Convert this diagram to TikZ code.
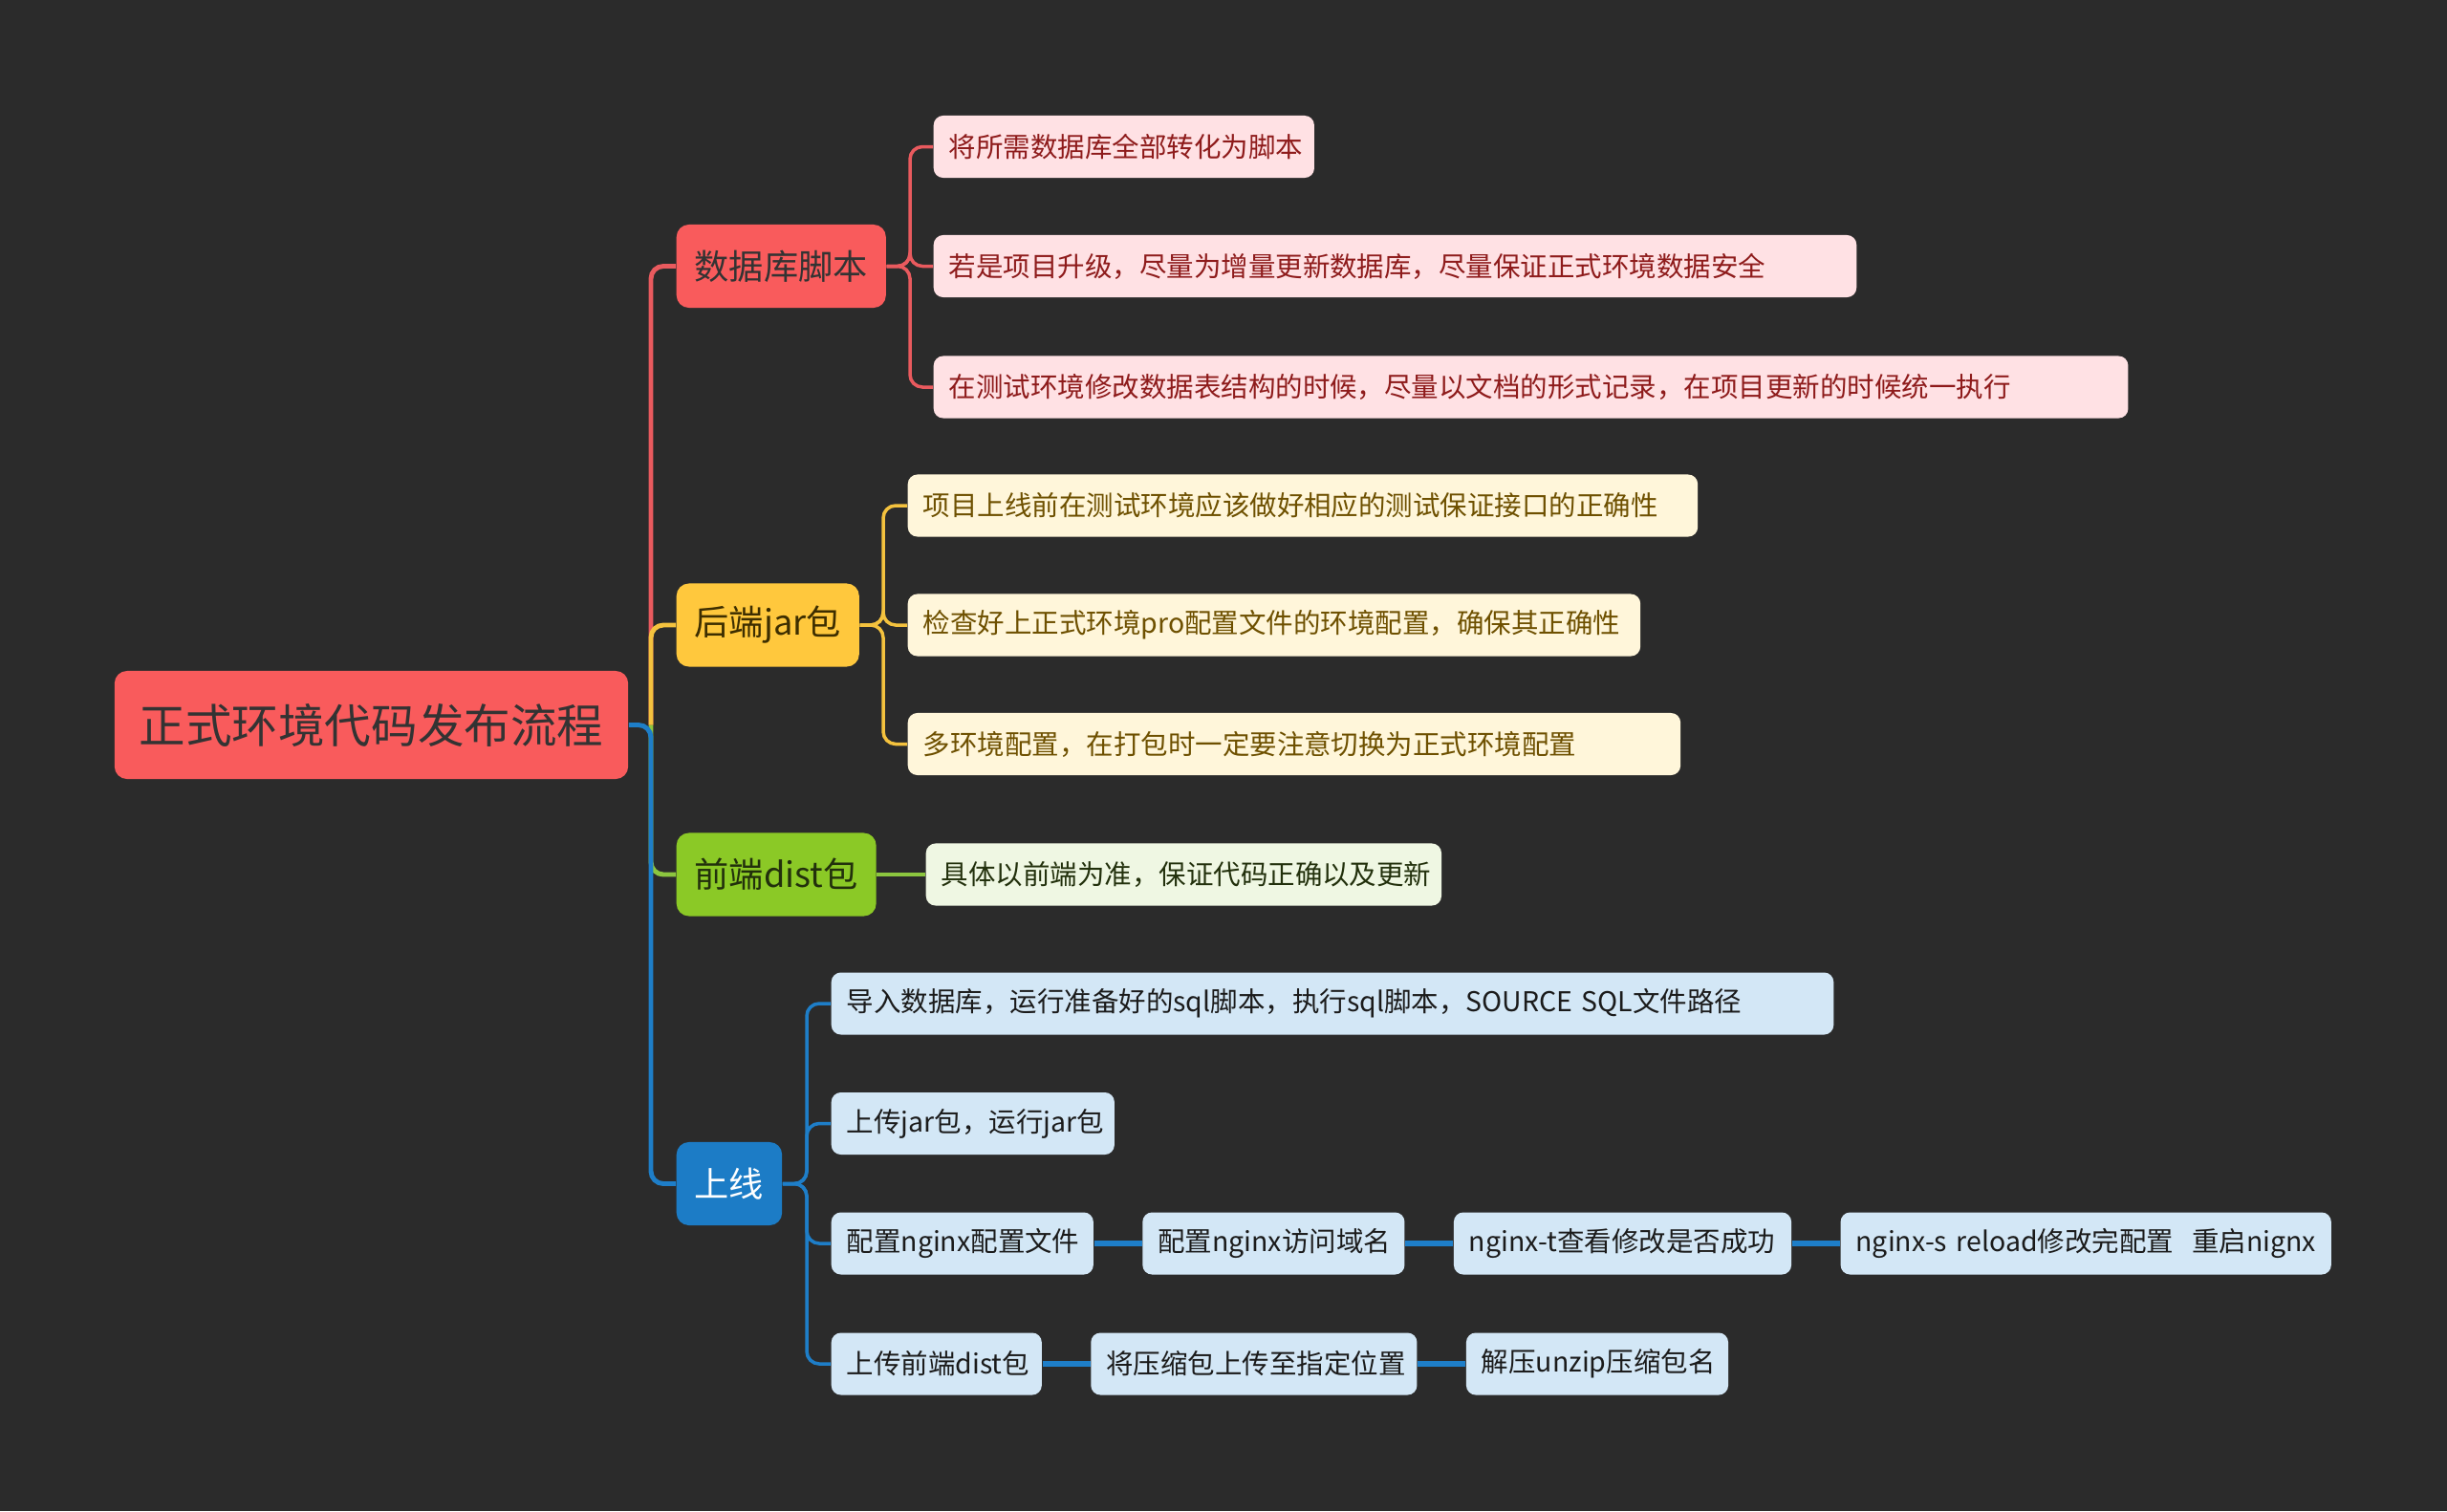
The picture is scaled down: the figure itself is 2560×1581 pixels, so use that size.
\documentclass[tikz,border=0pt]{standalone}
\usepackage{fontspec}
\newfontfamily\cjk{Noto Sans CJK SC}
\usetikzlibrary{positioning}

\definecolor{bg}{HTML}{2B2B2B}
\definecolor{rootred}{HTML}{F95B5C}
\definecolor{darkink}{HTML}{333333}
\definecolor{dbline}{HTML}{E95A5E}
\definecolor{dbfill}{HTML}{FFE1E4}
\definecolor{dbink}{HTML}{8E1B1B}
\definecolor{jarline}{HTML}{F4C23E}
\definecolor{jarmain}{HTML}{FFC83D}
\definecolor{jarfill}{HTML}{FFF6DA}
\definecolor{jarink}{HTML}{6E5000}
\definecolor{jartopic}{HTML}{3D2E00}
\definecolor{distline}{HTML}{8CC63F}
\definecolor{distmain}{HTML}{8BC926}
\definecolor{distfill}{HTML}{EFF7E3}
\definecolor{distink}{HTML}{22300C}
\definecolor{online}{HTML}{1E7EC8}
\definecolor{onmain}{HTML}{1C7CC6}
\definecolor{onfill}{HTML}{D3E7F6}
\definecolor{onink}{HTML}{1B1B1B}

\begin{document}
\begin{tikzpicture}[
    x=0.01cm, y=-0.01cm,
    box/.style={
      rounded corners=0.1cm, inner sep=0pt, inner xsep=0.16cm,
      minimum height=0.65cm, anchor=west, text width=#1, align=left,
      font=\cjk\fontsize{8.1}{10}\selectfont
    },
    topic/.style={rounded corners=0.13cm, inner sep=0pt, anchor=west,
      minimum height=0.87cm, inner xsep=0.19cm,
      font=\cjk\fontsize{10.3}{12}\selectfont},
    rootbox/.style={topic, anchor=center, minimum height=1.13cm,
      inner xsep=0.26cm, fill=rootred, text=darkink,
      font=\cjk\fontsize{13.8}{16}\selectfont},
    dbleaf/.style={box=#1, fill=dbfill, text=dbink},
    jarleaf/.style={box=#1, fill=jarfill, text=jarink},
    distleaf/.style={box=#1, fill=distfill, text=distink},
    onleaf/.style={box=#1, fill=onfill, text=onink},
    link/.style={line width=1pt, rounded corners=0.13cm},
    trunk/.style={link, line width=1.4pt},
    chain/.style={line width=1.7pt, online},
  ]
  \def\gap{0.5cm}

  % Background
  \fill[bg] (0,0) rectangle (2560,1581);
  \useasboundingbox (0,0) rectangle (2560,1581);

  % Root and topics
  \node[rootbox] (root) at (388.5,758.5) {正式环境代码发布流程};
  \node[topic, fill=rootred, text=darkink] (db) at (707,278.5) {数据库脚本};
  \node[topic, fill=jarmain, text=jartopic] (jar) at (707,654) {后端jar包};
  \node[topic, fill=distmain, text=distink] (dist) at (707,915) {前端dist包};
  \node[topic, fill=onmain, text=white] (on) at (707,1238.5) {上线};

  % Database leaves
  \node[dbleaf=3.66cm] (dbA) at (976,153.5) {将所需数据库全部转化为脚本};
  \node[dbleaf=9.33cm] (dbB) at (976,278.5) {若是项目升级，尽量为增量更新数据库，尽量保证正式环境数据安全};
  \node[dbleaf=12.17cm] (dbC) at (976,405) {在测试环境修改数据表结构的时候，尽量以文档的形式记录，在项目更新的时候统一执行};

  % Backend leaves
  \node[jarleaf=7.94cm] (jarA) at (949,529) {项目上线前在测试环境应该做好相应的测试保证接口的正确性};
  \node[jarleaf=7.34cm] (jarB) at (949,654) {检查好上正式环境pro配置文件的环境配置，确保其正确性};
  \node[jarleaf=7.76cm] (jarC) at (949,778.5) {多环境配置，在打包时一定要注意切换为正式环境配置};

  % Frontend leaf
  \node[distleaf=5.07cm] (distA) at (968,915) {具体以前端为准，保证代码正确以及更新};

  % Go-live leaves
  \node[onleaf=10.16cm] (onA) at (869,1050) {导入数据库，运行准备好的sql脚本，执行sql脚本，SOURCE SQL文件路径};
  \node[onleaf=2.64cm] (onB) at (869,1175.5) {上传jar包，运行jar包};
  \node[onleaf=2.42cm] (onC) at (869,1301) {配置nginx配置文件};
  \node[onleaf=2.42cm, right=\gap of onC] (onCb) {配置nginx访问域名};
  \node[onleaf=3.21cm, right=\gap of onCb] (onCc) {nginx-t查看修改是否成功};
  \node[onleaf=4.81cm, right=\gap of onCc] (onCd) {\mbox{nginx-s reload修改完配置\ \ 重启nignx}};
  \node[onleaf=1.88cm] (onD) at (869,1427) {上传前端dist包};
  \node[onleaf=3.09cm, right=\gap of onD] (onDb) {将压缩包上传至指定位置};
  \node[onleaf=2.42cm, right=\gap of onDb] (onDc) {解压unzip压缩包名};

  % Junctions
  \coordinate (rootj) at (681,758.5);
  \coordinate (dbj) at (952,278.5);
  \coordinate (jarj) at (924,654);
  \coordinate (onj) at (844,1238.5);

  % Trunk lines
  \draw[trunk, dbline] (rootj) |- (db.west);
  \draw[trunk, jarline] (rootj) |- (jar.west);
  \draw[trunk, distline] (rootj) |- (dist.west);
  \draw[trunk, online] (root.east) -- (rootj) |- (on.west);

  % Leaf links
  \foreach \n in {dbA,dbB,dbC}
    \draw[link, dbline] (db.east) -- (dbj) |- (\n.west);
  \foreach \n in {jarA,jarB,jarC}
    \draw[link, jarline] (jar.east) -- (jarj) |- (\n.west);
  \draw[link, distline] (dist.east) -- (distA.west);
  \foreach \n in {onA,onB,onC,onD}
    \draw[link, online] (on.east) -- (onj) |- (\n.west);

  % Chains
  \draw[chain] (onC.east) -- (onCb.west);
  \draw[chain] (onCb.east) -- (onCc.west);
  \draw[chain] (onCc.east) -- (onCd.west);
  \draw[chain] (onD.east) -- (onDb.west);
  \draw[chain] (onDb.east) -- (onDc.west);
\end{tikzpicture}
\end{document}
